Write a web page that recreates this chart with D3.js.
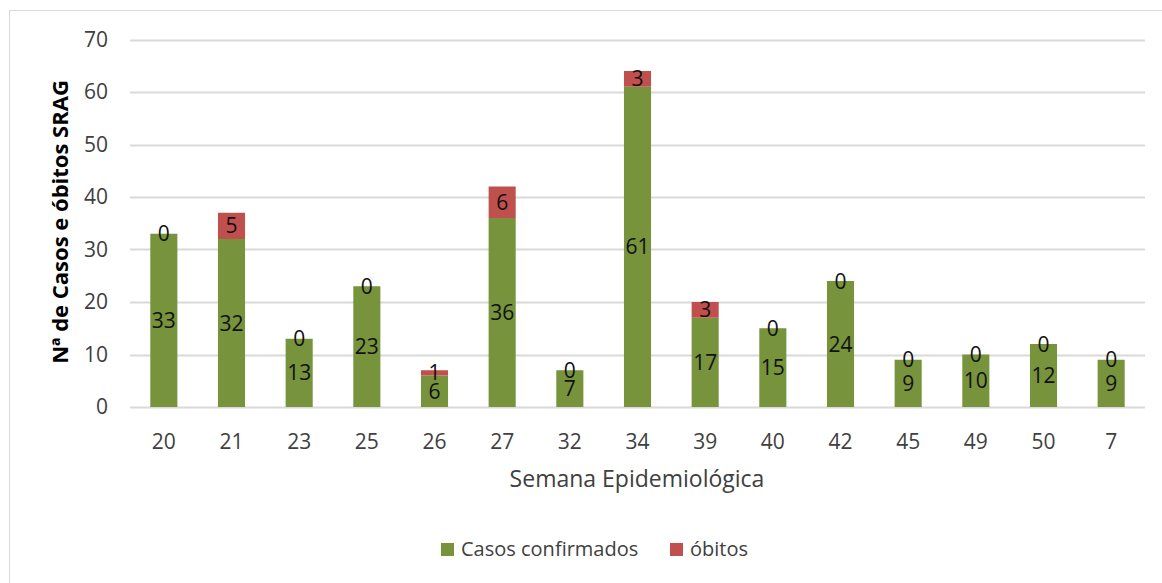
<!DOCTYPE html>
<head>
  <meta charset="utf-8">
  <script src="https://d3js.org/d3.v7.min.js"></script>
  <style>
    body { margin: 0; background: #fff; }
    text { font-family: "Open Sans", sans-serif; }
  </style>
</head>
<body>
<script>
  // data
  var semanas = ["20", "21", "23", "25", "26", "27", "32", "34", "39", "40", "42", "45", "49", "50", "7"];
  var casos   = [33, 32, 13, 23, 6, 36, 7, 61, 17, 15, 24, 9, 10, 12, 9];
  var obitos  = [0, 5, 0, 0, 1, 6, 0, 3, 3, 0, 0, 0, 0, 0, 0];
  var yTicks  = [0, 10, 20, 30, 40, 50, 60, 70];
  var seriesNames = ["Casos confirmados", "óbitos"];
  var seriesColors = ["#77933C", "#C0504D"];

  var W = 1162, H = 583;
  var svg = d3.select("body").append("svg")
    .attr("width", W).attr("height", H);

  // outer chart frame (cut off at right/bottom in the original)
  svg.append("rect")
    .attr("x", 9.5).attr("y", 10.5)
    .attr("width", W + 20).attr("height", H + 20)
    .attr("fill", "none").attr("stroke", "#d9d9d9");

  var x = d3.scaleBand().domain(semanas).range([130, 1145]).paddingInner(0.6).paddingOuter(0.3);
  var y = d3.scaleLinear().domain([0, 70]).range([407, 39.5]);

  // gridlines
  svg.append("g").selectAll("line")
    .data(yTicks)
    .enter().append("line")
    .attr("x1", 130).attr("x2", 1145)
    .attr("y1", function (d) { return Math.round(y(d)) + 0.5; })
    .attr("y2", function (d) { return Math.round(y(d)) + 0.5; })
    .attr("stroke", "#d9d9d9").attr("stroke-width", 2);

  // y axis labels
  var yAxis = d3.axisLeft(y).tickValues(yTicks).tickSize(0).tickPadding(22);
  var yg = svg.append("g").attr("transform", "translate(130,0)").call(yAxis);
  yg.select(".domain").remove();
  yg.selectAll("text").attr("font-size", 21).attr("fill", "#404040").attr("font-family", "Open Sans");

  // x axis labels
  var xAxis = d3.axisBottom(x).tickSize(0).tickPadding(27);
  var xg = svg.append("g").attr("transform", "translate(0,407)").call(xAxis);
  xg.select(".domain").remove();
  xg.selectAll("text").attr("font-size", 21).attr("fill", "#404040").attr("font-family", "Open Sans");

  var rows = semanas.map(function (s, i) { return { s: s, c: casos[i], o: obitos[i] }; });

  var bars = svg.append("g").selectAll("g")
    .data(rows)
    .enter().append("g");

  bars.append("rect")
    .attr("x", function (d) { return x(d.s); })
    .attr("width", x.bandwidth())
    .attr("y", function (d) { return y(d.c); })
    .attr("height", function (d) { return y(0) - y(d.c); })
    .attr("fill", seriesColors[0]);

  bars.filter(function (d) { return d.o > 0; }).append("rect")
    .attr("x", function (d) { return x(d.s); })
    .attr("width", x.bandwidth())
    .attr("y", function (d) { return y(d.c + d.o); })
    .attr("height", function (d) { return y(d.c) - y(d.c + d.o); })
    .attr("fill", seriesColors[1]);

  // labels in middle of each segment
  bars.append("text")
    .attr("x", function (d) { return x(d.s) + x.bandwidth() / 2; })
    .attr("y", function (d) { return y(d.c / 2); })
    .attr("dy", "0.36em")
    .attr("text-anchor", "middle")
    .attr("font-size", 21).attr("fill", "#111")
    .text(function (d) { return d.c; });

  bars.append("text")
    .attr("x", function (d) { return x(d.s) + x.bandwidth() / 2; })
    .attr("y", function (d) { return y(d.c + d.o / 2); })
    .attr("dy", "0.36em")
    .attr("text-anchor", "middle")
    .attr("font-size", 21).attr("fill", "#111")
    .text(function (d) { return d.o; });

  // axis titles
  svg.append("text")
    .attr("transform", "translate(68,222) rotate(-90)")
    .attr("text-anchor", "middle")
    .attr("font-size", 22).attr("font-weight", "bold").attr("fill", "#000")
    .text("Nª de Casos e óbitos SRAG");

  svg.append("text")
    .attr("x", 637).attr("y", 487)
    .attr("text-anchor", "middle")
    .attr("font-size", 23).attr("fill", "#404040")
    .text("Semana Epidemiológica");

  // legend
  var legendX = [441, 670];
  var legend = svg.append("g").selectAll("g")
    .data(seriesNames)
    .enter().append("g")
    .attr("transform", function (d, i) { return "translate(" + legendX[i] + ",543)"; });
  legend.append("rect")
    .attr("width", 13).attr("height", 13)
    .attr("fill", function (d, i) { return seriesColors[i]; });
  legend.append("text")
    .attr("x", 20).attr("y", 13)
    .attr("font-size", 20).attr("fill", "#404040")
    .text(function (d) { return d; });
</script>
</body>
